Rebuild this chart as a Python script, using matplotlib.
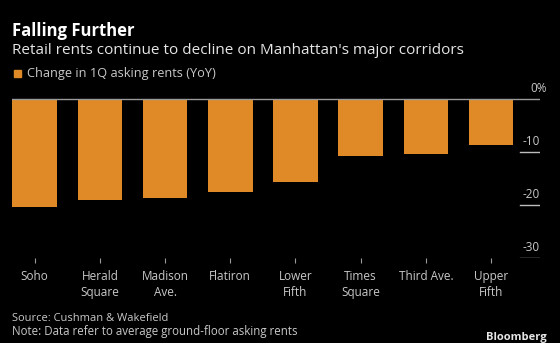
import numpy as np
import matplotlib
matplotlib.use("Agg")
import matplotlib.pyplot as plt

# data
corridors = ["Soho", "Herald\nSquare", "Madison\nAve.", "Flatiron", "Lower\nFifth",
             "Times\nSquare", "Third Ave.", "Upper\nFifth"]
rent_change = [-20.4, -19.1, -18.6, -17.5, -15.7, -10.8, -10.3, -8.6]
y_ticks = [0, -10, -20, -30]
y_labels = ["0%", "-10", "-20", "-30"]

bar_col = "#df8a26"
txt_col = "#c8c8c8"
plt.rcParams["font.family"] = ["Open Sans", "DejaVu Sans"]

W, H = 560, 343
fig = plt.figure(figsize=(W / 100, H / 100), dpi=100, facecolor="black")
ax = fig.add_axes([12 / W, 1 - 258.3 / H, 528 / W, (258.3 - 80) / H])
ax.set_facecolor("black")

x = np.arange(len(corridors))
ax.bar(x, rent_change, width=0.685, color=bar_col, zorder=2)
ax.set_xlim(-0.348, 7.75)
ax.set_ylim(-30, 3.6)

# zero line across, short grid stubs under the labels on the right
ax.axhline(0, color="#9a9a9a", lw=1, zorder=3)
for v, lab in zip(y_ticks, y_labels):
	if v != 0:
		ax.axhline(v, xmin=0.962, xmax=1, color="#bdbdbd", lw=1)
	dx = 5.2 if lab.endswith("%") else 0
	ax.annotate(lab, xy=(1, v), xycoords=("axes fraction", "data"), xytext=(dx, 5),
				textcoords="offset points", ha="right", va="baseline",
				color=txt_col, fontsize=8.5)

ax.set_yticks([])
ax.set_xticks(x)
ax.set_xticklabels(corridors, color=txt_col, fontsize=8.5, linespacing=1.3, va="top")
ax.tick_params(axis="x", length=3.5, width=0.8, color="#9a9a9a", pad=5)
for s in ax.spines.values():
	s.set_visible(False)

fig.text(12 / W, 1 - 35.7 / H, "Falling Further", color="white", fontsize=12,
		 fontweight="bold", va="baseline")
fig.text(12 / W, 1 - 54.3 / H, "Retail rents continue to decline on Manhattan's major corridors",
		 color="#e6e6e6", fontsize=11, va="baseline")
fig.patches.append(plt.Rectangle((14 / W, 1 - 77 / H), 7 / W, 7 / H, color=bar_col,
								 transform=fig.transFigure, figure=fig))
fig.text(27 / W, 1 - 76.7 / H, "Change in 1Q asking rents (YoY)", color=txt_col,
		 fontsize=9.2, va="baseline")
fig.text(12 / W, 1 - 321 / H, "Source: Cushman & Wakefield", color=txt_col,
		 fontsize=8, va="baseline")
fig.text(12 / W, 1 - 335 / H, "Note: Data refer to average ground-floor asking rents",
		 color=txt_col, fontsize=8.3, va="baseline")
fig.text(547 / W, 1 - 340 / H, "Bloomberg", color="#e6e6e6", fontsize=8,
		 fontweight="bold", ha="right", va="baseline")

fig.savefig("out.png", dpi=100, facecolor="black")
